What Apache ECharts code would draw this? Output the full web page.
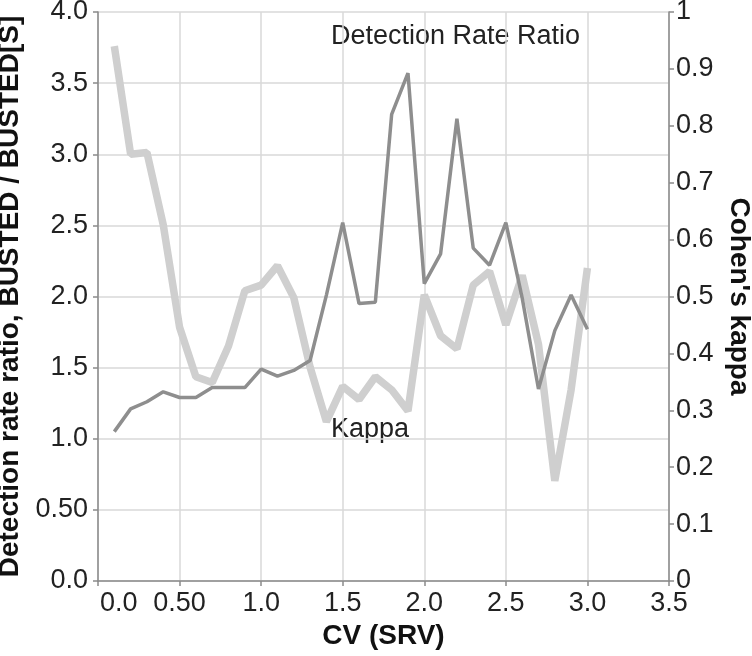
<!DOCTYPE html>
<html><head><meta charset="utf-8">
<script src="https://cdn.jsdelivr.net/npm/echarts@6/dist/echarts.min.js"></script>
<style>html,body{margin:0;padding:0;background:#fff}#c{width:752px;height:656px}</style>
</head><body><div id="c"></div>
<script>
const cv = [0.1,0.2,0.3,0.4,0.5,0.6,0.7,0.8,0.9,1.0,1.1,1.2,1.3,1.4,1.5,1.6,1.7,1.8,1.9,2.0,2.1,2.2,2.3,2.4,2.5,2.6,2.7,2.8,2.9,3.0];
const detectionRatio = [1.05,1.21,1.26,1.33,1.29,1.29,1.36,1.36,1.36,1.49,1.44,1.48,1.55,2.01,2.52,1.95,1.96,3.28,3.57,2.09,2.30,3.25,2.34,2.22,2.52,1.99,1.35,1.76,2.01,1.77];
const kappa = [0.94,0.75,0.753,0.626,0.446,0.359,0.349,0.413,0.51,0.52,0.554,0.498,0.376,0.28,0.342,0.319,0.359,0.336,0.299,0.503,0.431,0.408,0.52,0.544,0.45,0.537,0.416,0.176,0.336,0.55];
const xTickLabels = {0:'0.0',0.5:'0.50',1:'1.0',1.5:'1.5',2:'2.0',2.5:'2.5',3:'3.0',3.5:'3.5'};
const leftTickLabels = {0:'0.0',0.5:'0.50',1:'1.0',1.5:'1.5',2:'2.0',2.5:'2.5',3:'3.0',3.5:'3.5',4:'4.0'};
const rightTickLabels = {0:'0',0.1:'0.1',0.2:'0.2',0.3:'0.3',0.4:'0.4',0.5:'0.5',0.6:'0.6',0.7:'0.7',0.8:'0.8',0.9:'0.9',1:'1'};

const FONT = 'Liberation Sans';
const TICK_FS = 27, NAME_FS = 28;
const key = v => Math.round(v*10)/10;
const chart = echarts.init(document.getElementById('c'), null, {renderer:'canvas'});
const nameStyle = {fontFamily:FONT,fontSize:NAME_FS,fontWeight:'bold',color:'#111'};
const axisLineStyle = {show:true,lineStyle:{color:'#8a8a8a',width:1.5}};
const tickStyle = {show:true,length:5,lineStyle:{color:'#8a8a8a',width:1.5}};
chart.setOption({
  animation:false,
  backgroundColor:'#fff',
  grid:{left:98,right:83,top:12,bottom:75,containLabel:false,outerBoundsMode:'none'},
  xAxis:{
    type:'value',min:0,max:3.5,interval:0.5,
    name:'CV (SRV)',nameLocation:'middle',nameGap:37,
    nameTextStyle:nameStyle,
    axisLine:axisLineStyle,
    axisTick:tickStyle,
    splitLine:{show:true,lineStyle:{color:'#d9d9d9',width:1.5}},
    axisLabel:{fontFamily:FONT,fontSize:TICK_FS,color:'#222',margin:9,
      alignMinLabel:'left',
      formatter:v=>{const s=xTickLabels[key(v)]; return v===0?'{p|'+s+'}':s;},
      rich:{p:{fontFamily:FONT,fontSize:TICK_FS,color:'#222',padding:[0,0,0,2]}}}
  },
  yAxis:[{
    type:'value',min:0,max:4,interval:0.5,position:'left',
    name:'Detection rate ratio, BUSTED / BUSTED[S]',nameLocation:'middle',nameGap:70,nameRotate:90,
    nameTextStyle:nameStyle,
    axisLine:axisLineStyle,
    axisTick:tickStyle,
    splitLine:{show:true,lineStyle:{color:'#d9d9d9',width:1.5}},
    axisLabel:{fontFamily:FONT,fontSize:TICK_FS,color:'#222',margin:10,
      formatter:v=>leftTickLabels[key(v)]}
  },{
    type:'value',min:0,max:1,interval:0.1,position:'right',
    name:"Cohen's kappa",nameLocation:'middle',nameGap:54,nameRotate:-90,
    nameTextStyle:nameStyle,
    axisLine:axisLineStyle,
    axisTick:tickStyle,
    splitLine:{show:false},
    axisLabel:{fontFamily:FONT,fontSize:TICK_FS,color:'#222',margin:7,
      formatter:v=>rightTickLabels[key(v)]}
  }],
  series:[{
    name:'Kappa',type:'line',yAxisIndex:1,symbol:'none',
    data:cv.map((x,i)=>[x,kappa[i]]),
    lineStyle:{color:'#cfcfcf',width:7.5}
  },{
    name:'Detection Rate Ratio',type:'line',yAxisIndex:0,symbol:'none',
    data:cv.map((x,i)=>[x,detectionRatio[i]]),
    lineStyle:{color:'#8e8e8e',width:3.5}
  }],
  graphic:[
    {type:'text',left:331,top:23,style:{text:'Detection Rate Ratio',font:'27px "Liberation Sans"',fill:'#222'}},
    {type:'text',left:331,top:416,style:{text:'Kappa',font:'27px "Liberation Sans"',fill:'#222'}}
  ]
});
</script></body></html>
